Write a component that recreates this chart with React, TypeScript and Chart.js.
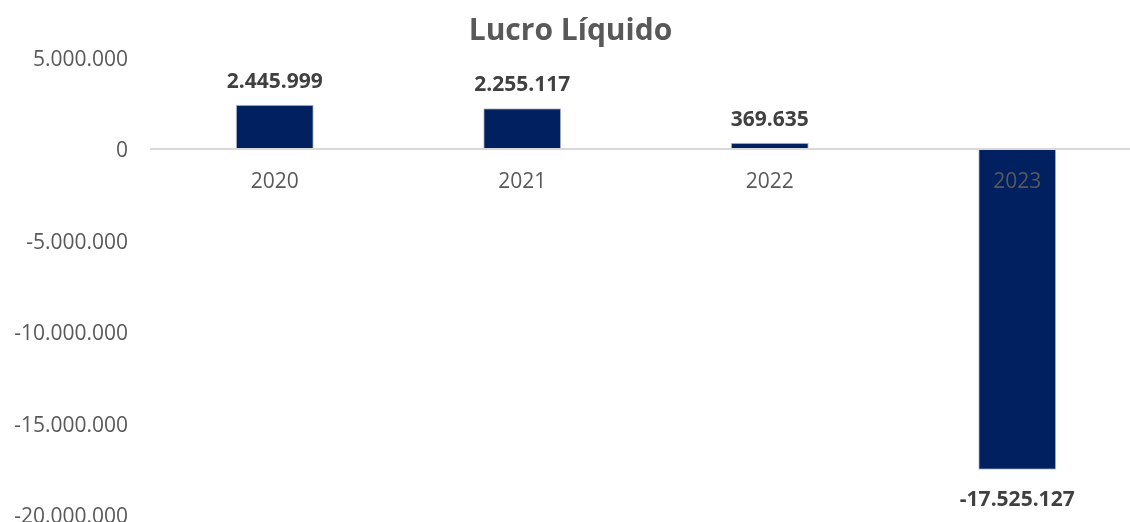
import React, { useEffect, useRef } from "react";
import { Chart, registerables } from "chart.js";

Chart.register(...registerables);

const titleText = "Lucro Líquido";
const categories = ["2020", "2021", "2022", "2023"];
const values = [2445999, 2255117, 369635, -17525127];
const yMin = -20000000;
const yMax = 5000000;
const yStep = 5000000;

const FONT = "'Open Sans', 'DejaVu Sans', sans-serif";

function fmt(v: number): string {
  const s = Math.round(Math.abs(v))
    .toString()
    .replace(/\B(?=(\d{3})+(?!\d))/g, ".");
  return (v < 0 ? "-" : "") + s;
}

const valueLabels = {
  id: "valueLabels",
  afterDatasetsDraw(chart: any) {
    const ctx = chart.ctx;
    const meta = chart.getDatasetMeta(0);
    const data = chart.data.datasets[0].data as number[];
    ctx.save();
    ctx.font = `bold 21px ${FONT}`;
    ctx.fillStyle = "#404040";
    ctx.textAlign = "center";
    ctx.textBaseline = "alphabetic";
    meta.data.forEach((bar: any, i: number) => {
      const v = data[i];
      const y = v >= 0 ? bar.y - 17 : bar.y + 36;
      ctx.fillText(fmt(v), bar.x, y);
    });
    ctx.restore();
  },
};

export default function App() {
  const ref = useRef<HTMLCanvasElement>(null);
  useEffect(() => {
    if (!ref.current) return;
    const chart = new Chart(ref.current, {
      type: "bar",
      data: {
        labels: categories,
        datasets: [
          {
            data: values,
            backgroundColor: "#002060",
            borderColor: "#bfc3cc",
            borderWidth: 1,
            categoryPercentage: 0.315,
            barPercentage: 1,
          },
        ],
      },
      options: {
        responsive: false,
        animation: false,
        layout: { padding: { left: 0, right: 9, top: 0, bottom: 7 } },
        plugins: {
          legend: { display: false },
          tooltip: { enabled: false },
          title: {
            display: true,
            text: titleText,
            color: "#595959",
            font: { family: FONT, size: 30, weight: "bold", lineHeight: 1.2 },
            padding: { top: 13, bottom: 9 },
          },
        },
        scales: {
          x: {
            position: { y: 0 } as any,
            offset: true,
            grid: { display: false, drawTicks: false },
            border: { display: true, color: "#d9d9d9", width: 2, z: 1 },
            ticks: {
              z: 1,
              color: "#595959",
              font: { family: FONT, size: 21 },
              padding: 20,
              maxRotation: 0,
            },
            afterFit: (scale: any) => {
              scale.height = 0;
            },
          },
          y: {
            min: yMin,
            max: yMax,
            grid: { display: false, drawTicks: false },
            border: { display: false },
            ticks: {
              stepSize: yStep,
              color: "#595959",
              font: { family: FONT, size: 21, lineHeight: 0.8 },
              padding: 23,
              labelOffset: 2,
              callback: (v: any) => fmt(Number(v)),
            },
            afterFit: (scale: any) => {
              scale.width = 151;
              scale.paddingTop = 0;
              scale.paddingBottom = 0;
            },
          },
        },
      },
      plugins: [valueLabels],
    });
    return () => chart.destroy();
  }, []);
  return (
    <div
      style={{
        position: "fixed",
        left: 0,
        top: 0,
        width: 1130,
        height: 522,
        overflow: "hidden",
        background: "#ffffff",
      }}
    >
      <canvas ref={ref} width={1150} height={522} style={{ display: "block" }} />
    </div>
  );
}
